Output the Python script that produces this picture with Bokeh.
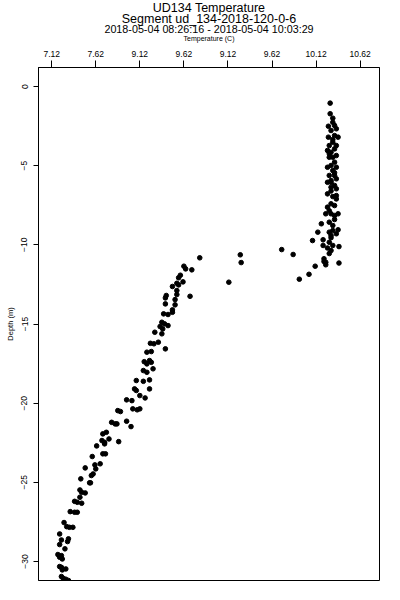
from bokeh.plotting import figure
from bokeh.models import Range1d, FixedTicker, Title, ColumnDataSource
from bokeh.embed import file_html
from bokeh.resources import INLINE

title_lines = ["UD134 Temperature",
               "Segment ud_134-2018-120-0-6",
               "2018-05-04 08:26:16 - 2018-05-04 10:03:29"]
x_label = "Temperature (C)"
y_label = "Depth (m)"

x_tick_values = [7.12, 7.62, 8.12, 8.62, 9.12, 9.62, 10.12, 10.62]
x_tick_labels = ["7.12", "7.62", "9.12", "9.62", "9.12", "9.62", "10.12", "10.62"]
y_tick_values = [0, -5, -10, -15, -20, -25, -30]

# upper mixed layer + transition
temp_upper = [10.28, 10.28, 10.31, 10.31, 10.26, 10.33, 10.35, 10.29, 10.33, 10.37,
              10.26, 10.31, 10.31, 10.27, 10.35, 10.33, 10.25, 10.29, 10.27, 10.35,
              10.31, 10.27, 10.33, 10.29, 10.35, 10.25, 10.31, 10.33, 10.27, 10.33,
              10.35, 10.29, 10.25, 10.29, 10.33, 10.29, 10.29, 10.35, 10.25, 10.35,
              10.31, 10.35, 10.29, 10.33, 10.25, 10.27, 10.23, 10.29, 10.37, 10.33,
              10.27, 10.33, 10.18, 10.31, 10.37, 10.31, 10.27, 10.14, 10.35, 10.29,
              10.29, 10.20, 10.08, 10.27, 10.31, 10.20, 10.38, 10.25, 10.29, 10.27,
              9.73, 9.86, 10.21, 10.21, 10.38, 10.23, 10.23, 10.11, 10.04, 9.93,
              9.26, 9.27, 9.13, 8.80]
depth_upper = [-1.05, -1.72, -2.00, -2.26, -2.51, -2.46, -2.67, -2.78, -3.10, -3.20,
               -3.20, -3.35, -3.52, -3.73, -3.73, -3.94, -4.04, -4.15, -4.25, -4.36,
               -4.47, -4.47, -4.78, -4.99, -5.10, -5.10, -5.31, -5.45, -5.62, -5.62,
               -5.83, -5.94, -6.05, -6.05, -6.25, -6.36, -6.60, -6.46, -6.78, -6.89,
               -6.95, -7.10, -7.41, -7.52, -7.62, -7.85, -8.04, -8.04, -8.04, -8.15,
               -8.57, -8.40, -8.67, -8.78, -9.05, -9.10, -9.20, -9.20, -9.30, -9.41,
               -9.55, -9.68, -9.73, -9.84, -10.04, -10.04, -10.11, -10.20, -10.36, -10.55,
               -10.30, -10.61, -10.88, -11.05, -11.15, -11.10, -11.26, -11.35, -11.86, -12.17,
               -10.63, -11.12, -12.36, -10.82]

# thermocline / lower layer
temp_lower = [8.62, 8.64, 8.71, 8.58, 8.56, 8.61, 8.54, 8.56, 8.49, 8.54,
              8.54, 8.69, 8.42, 8.41, 8.52, 8.41, 8.52, 8.49, 8.39, 8.44,
              8.49, 8.37, 8.40, 8.44, 8.35, 8.38, 8.29, 8.37, 8.33, 8.24,
              8.28, 8.41, 8.20, 8.25, 8.23, 8.25, 8.20, 8.17, 8.16, 8.20,
              8.27, 8.23, 8.16, 8.08, 8.06, 8.08, 8.12, 8.23, 8.18, 8.03,
              7.97, 8.12, 8.09, 8.04, 7.87, 7.90, 7.80, 7.84, 7.86, 7.97,
              8.02, 7.74, 7.70, 7.77, 7.72, 7.63, 7.88, 7.72, 7.69, 7.70,
              7.73, 7.58, 7.67, 7.61, 7.62, 7.50, 7.59, 7.57, 7.45, 7.55,
              7.56, 7.44, 7.46, 7.50, 7.44, 7.38, 7.41, 7.46, 7.33, 7.38,
              7.41, 7.26, 7.29, 7.32, 7.36, 7.21, 7.23, 7.21, 7.31, 7.30,
              7.27, 7.19, 7.23, 7.24, 7.21, 7.21, 7.23, 7.28, 7.24, 7.23,
              7.25, 7.28, 7.31]
depth_lower = [-11.35, -11.52, -11.58, -11.92, -12.08, -12.34, -12.43, -12.53, -12.63, -12.89,
               -13.14, -13.25, -13.20, -13.35, -13.46, -13.73, -13.79, -14.11, -14.36, -14.40,
               -14.26, -14.89, -14.99, -15.10, -15.16, -15.31, -15.52, -15.62, -16.15, -16.22,
               -16.25, -16.57, -16.78, -16.74, -17.31, -17.42, -17.52, -17.38, -17.94, -18.05,
               -17.83, -18.53, -18.62, -18.57, -19.10, -19.20, -19.52, -19.10, -19.67, -19.84,
               -19.79, -20.36, -20.42, -20.36, -20.47, -20.53, -21.21, -21.31, -21.31, -21.14,
               -21.48, -21.84, -21.94, -22.26, -22.57, -22.70, -22.43, -22.47, -22.36, -23.20,
               -23.20, -23.37, -23.83, -23.90, -24.15, -24.09, -24.47, -24.57, -24.78, -25.03,
               -25.03, -25.48, -25.63, -25.67, -25.94, -26.20, -26.26, -26.32, -26.85, -26.89,
               -26.89, -27.54, -27.80, -27.84, -27.84, -28.26, -28.64, -28.93, -28.57, -28.74,
               -29.20, -29.56, -29.63, -29.84, -29.73, -30.32, -30.37, -30.47, -30.53, -30.95,
               -31.06, -31.12, -31.20]

FONT = "Liberation Sans"

p = figure(frame_width=341, frame_height=513, output_backend="svg", toolbar_location=None,
           x_range=Range1d(6.97, 10.84), y_range=Range1d(-31.2, 1.2),
           x_axis_location="above", title_location=None,
           min_border_left=38, min_border_right=12, min_border_bottom=12, min_border_top=67)
p.background_fill_color = "white"
p.border_fill_color = "white"
p.outline_line_color = "black"
p.outline_line_width = 1
p.outline_line_alpha = 1.0
p.xgrid.visible = False
p.ygrid.visible = False

src = ColumnDataSource(data=dict(t=temp_upper + temp_lower, d=depth_upper + depth_lower))
p.scatter("t", "d", source=src, size=4.6, marker="circle", fill_color="black", line_color="black")

xa = p.xaxis[0]
xa.ticker = FixedTicker(ticks=x_tick_values)
xa.major_label_overrides = {v: s for v, s in zip(x_tick_values, x_tick_labels)}
xa.major_tick_out = 7
xa.major_tick_in = 0
xa.minor_tick_line_color = None
xa.axis_line_color = "black"
xa.major_tick_line_color = "black"
xa.major_label_text_font = FONT
xa.major_label_text_font_size = "8.5px"
xa.major_label_text_color = "black"
xa.major_label_standoff = 4
xa.axis_label = x_label
xa.axis_label_text_font = FONT
xa.axis_label_text_font_size = "7px"
xa.axis_label_text_font_style = "normal"
xa.axis_label_text_color = "black"
xa.axis_label_standoff = 6

ya = p.yaxis[0]
ya.ticker = FixedTicker(ticks=y_tick_values)
ya.major_label_orientation = "vertical"
ya.major_tick_out = 5
ya.major_tick_in = 0
ya.minor_tick_line_color = None
ya.axis_line_color = "black"
ya.major_tick_line_color = "black"
ya.major_label_text_font = FONT
ya.major_label_text_font_size = "8.5px"
ya.major_label_text_color = "black"
ya.major_label_standoff = 6

# y-axis title as a left-side title panel outside the axis
p.add_layout(Title(text=y_label, align="center", text_font=FONT, text_font_size="7.5px",
                   text_font_style="normal", text_color="black", standoff=7), "left")

# stacked title lines: first added sits closest to the axis
for txt, size, so in [(title_lines[2], "10.75px", -6), (title_lines[1], "12.5px", -4),
                      (title_lines[0], "12.5px", -7)]:
    p.add_layout(Title(text=txt, align="center", text_font=FONT, text_font_size=size,
                       text_font_style="normal", text_color="black", standoff=so), "above")

open("out.html", "w").write(file_html(p, INLINE))
